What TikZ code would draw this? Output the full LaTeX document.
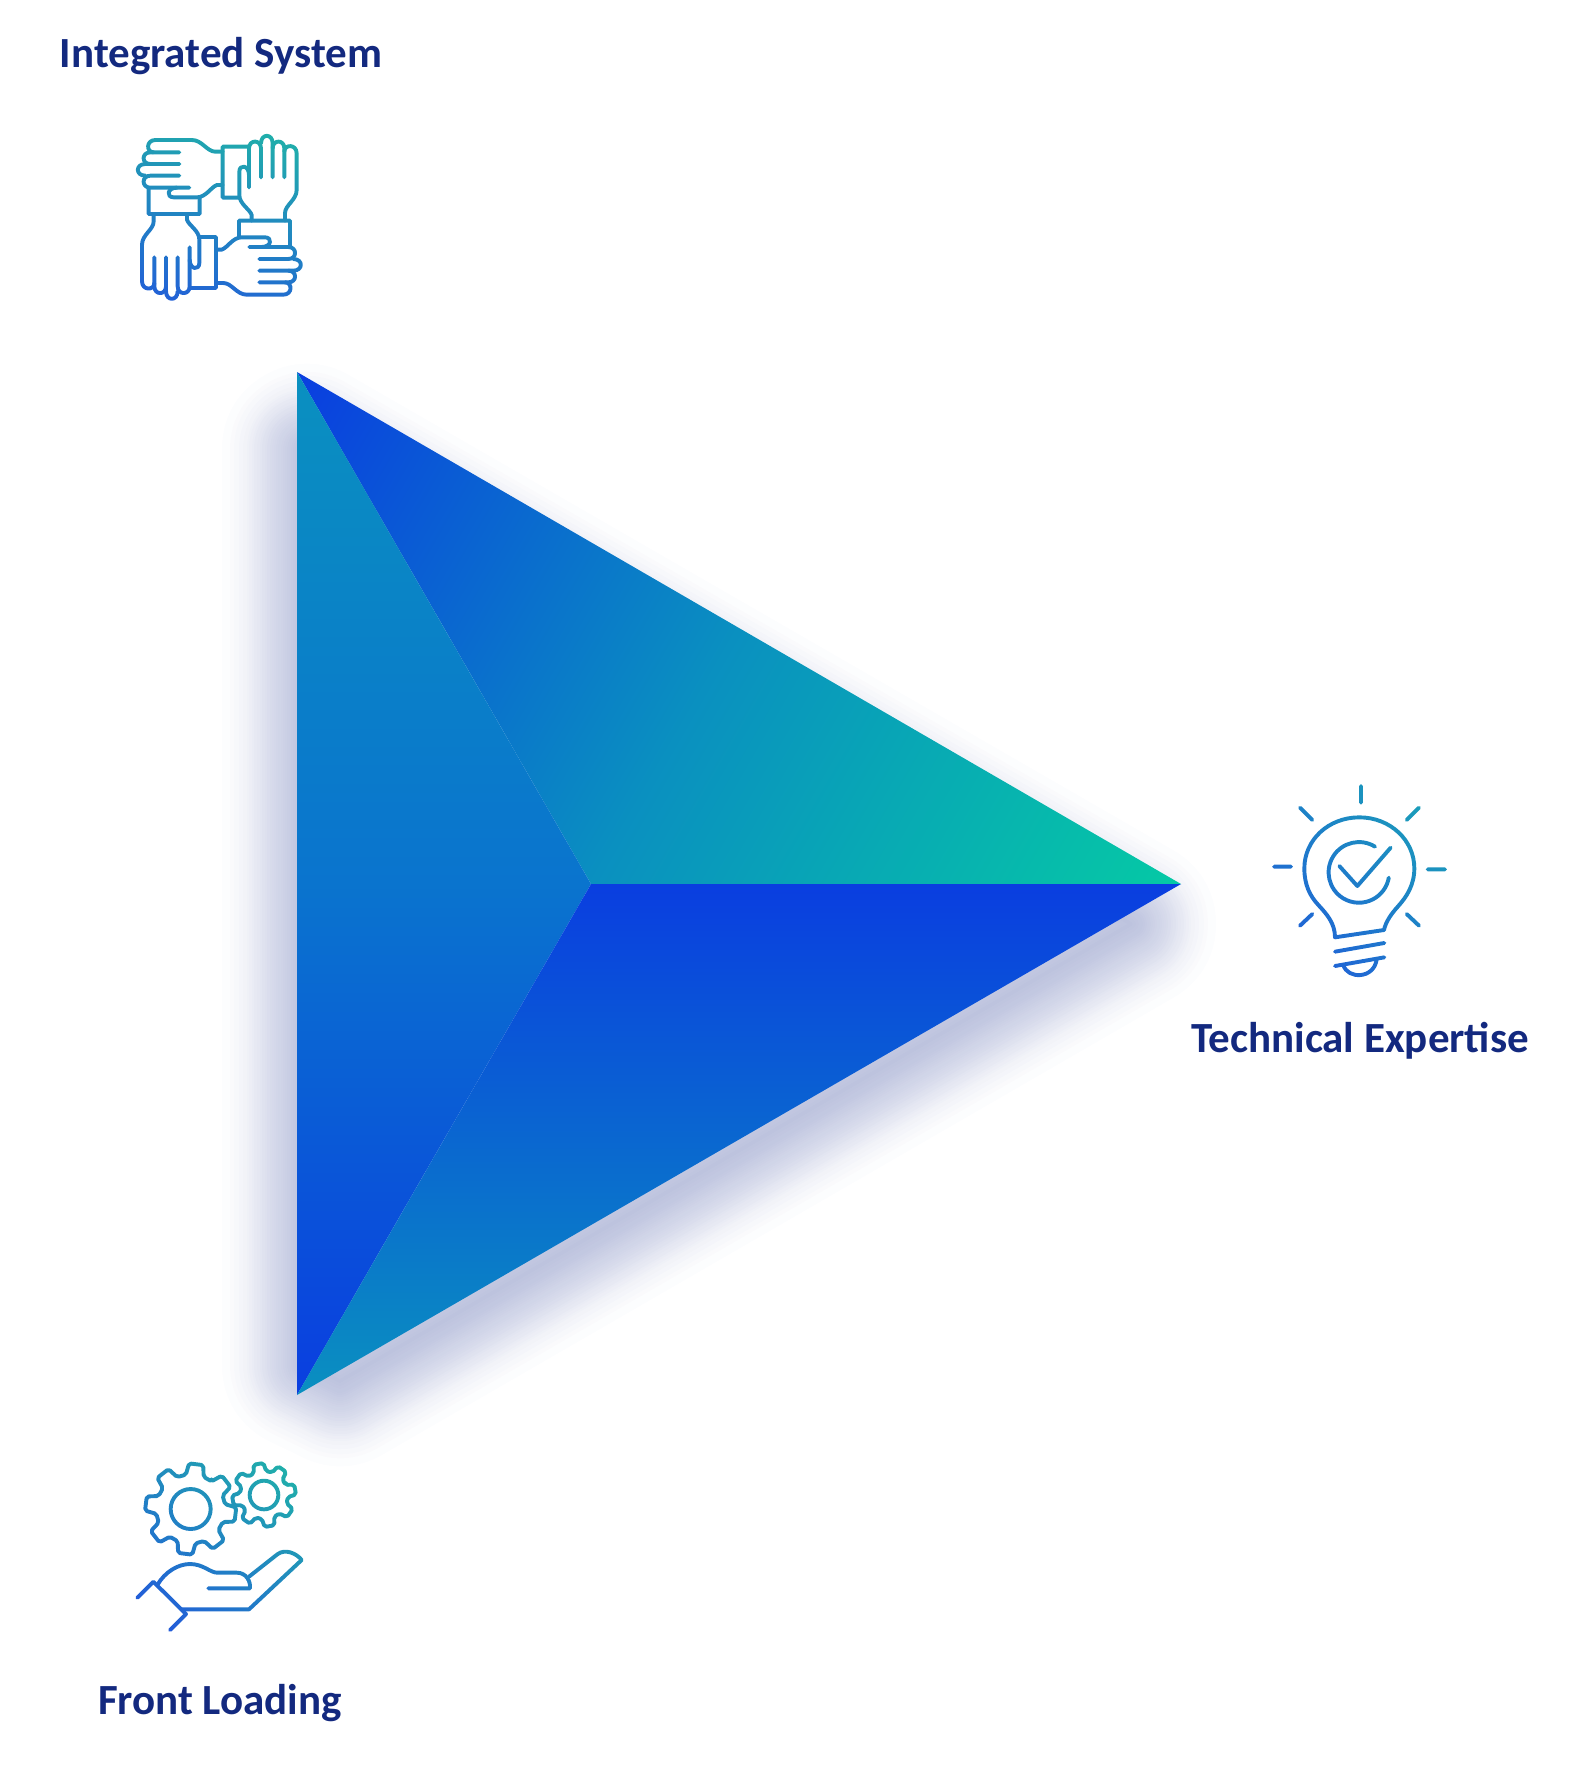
\documentclass[tikz,border=0pt]{standalone}
\usepackage{fontspec}
\setmainfont{Carlito}
\usetikzlibrary{fadings}
\definecolor{labelnavy}{HTML}{13297F}
\definecolor{shadowblue}{HTML}{1F3390}
\definecolor{deepblue}{HTML}{0A3EE0}
\definecolor{midteal}{HTML}{0A90C0}
\definecolor{midblue}{HTML}{0A74CE}
\definecolor{tipgreen}{HTML}{05C9A5}
\definecolor{iconblue}{HTML}{2255DD}
\definecolor{iconteal}{HTML}{20B8A5}
\definecolor{bulbteal}{HTML}{1AA0B8}
\tikzset{
    iconline/.style={draw=transparent!0, line width=3.9pt, line cap=round, line join=round},
    iconfade/.style={x=0.3333pt, y=-0.3333pt},
    sidelabel/.style={anchor=base, text=labelnavy, font=\fontsize{43}{46}\selectfont\bfseries}
}
% draws one gear: centre, tip radius, root radius, hole radius, offset
\newcommand{\gearwheel}[5]{
    \begin{scope}[shift={(#1)}]
        \draw[iconline, rounded corners=2pt] (#5-15:#3)
            \foreach \t in {0,45,...,315} {
                -- (#5+\t-15:#3) -- (#5+\t-9:#2) -- (#5+\t+9:#2) -- (#5+\t+15:#3)
            } -- cycle;
        \draw[iconline] (0,0) circle (#4);
    \end{scope}
}
\begin{tikzfadingfrompicture}[name=handsfade, iconfade]
    \path (0,0) rectangle (720,720);
    \foreach \a in {0,90,180,270} {
        \begin{scope}[rotate around={\a:(358,352)}]
            \draw[iconline] (455,362) -- (455,345) .. controls (450,328) and (418,312) .. (418,285) -- (418,215)
                .. controls (418,192) and (447,195) .. (447,225);
            \draw[iconline] (447,262) -- (447,145) .. controls (447,118) and (483,118) .. (483,145) -- (483,232);
            \draw[iconline] (483,130) .. controls (483,100) and (518,100) .. (518,130) -- (518,232);
            \draw[iconline] (518,145) .. controls (518,118) and (553,118) .. (553,145) -- (553,232);
            \draw[iconline] (553,155) .. controls (553,132) and (590,132) .. (590,160) -- (590,270)
                .. controls (590,300) and (555,315) .. (555,340) -- (555,362);
            \draw[iconline] (417,409) -- (417,362) -- (570,362) -- (570,440);
        \end{scope}
    }
\end{tikzfadingfrompicture}
\begin{tikzfadingfrompicture}[name=bulbfade, iconfade]
    \path (0,0) rectangle (720,720);
    % rays
    \foreach \xa/\ya/\xb/\yb in {423/78/423/128, 240/143/277/180, 597/143/560/180, 162/320/213/320,
        623/328/675/328, 277/462/240/497, 560/462/597/497} {
        \draw[iconline] (\xa,\ya) -- (\xb,\yb);
    }
    \draw[iconline] (345,532) .. controls (345,490) and (320,462) .. (295,435)
        .. controls (270,408) and (253,375) .. (253,325)
        .. controls (253,240) and (325,172) .. (418,172)
        .. controls (510,172) and (583,240) .. (583,325)
        .. controls (583,375) and (560,410) .. (535,438)
        .. controls (515,460) and (497,485) .. (492,510) -- cycle;
    \draw[iconline] (345,575) -- (493,549);
    \draw[iconline] (345,618) -- (493,592);
    \draw[iconline] (370,615) .. controls (382,658) and (462,658) .. (470,598);
    \draw[iconline] (465,260) arc[start angle=-58, end angle=-350, radius=91];
    \draw[iconline] (358,318) -- (412,378) -- (512,263);
\end{tikzfadingfrompicture}
\begin{tikzfadingfrompicture}[name=gearfade, iconfade]
    \path (0,0) rectangle (720,720);
    \gearwheel{272,267}{137}{104}{60}{-38}
    \gearwheel{492,225}{96}{72}{43}{-10}
    \draw[iconline] (112,533) -- (160,485) -- (258,582) -- (210,630);
    \draw[iconline] (172,495) .. controls (195,455) and (235,432) .. (270,432)
        .. controls (310,432) and (330,458) .. (352,458) -- (410,458)
        .. controls (440,458) and (452,485) .. (450,505) -- (325,505);
    \draw[iconline] (245,568) -- (447,568) -- (605,420)
        .. controls (590,400) and (555,385) .. (532,403) -- (447,470);
\end{tikzfadingfrompicture}
\begin{document}
\begin{tikzpicture}[x=1pt, y=-1pt]
    \useasboundingbox (0,0) rectangle (1580,1768);
    \coordinate (apex) at (297,372);
    \coordinate (tip) at (1181,884);
    \coordinate (foot) at (297,1395);
    \coordinate (hub) at (591,884);

    % soft shadow under the triangle
    \foreach \d in {-8,-5,-2,2,4,6,8,10,12,14,16,19,21,23,25,27,30,32,35,37,40,43,45,48,50,54,58,63,67,75} {
        \draw[shadowblue, opacity=0.01, line join=round, line width=2*(\d+10)*1pt]
            (307,449) -- (1131,924) -- (340,1381) -- (307,1365) -- cycle;
    }

    % the three facets
    \begin{scope}
        \clip (apex) -- (tip) -- (hub) -- cycle;
        \shade[bottom color=deepblue, top color=tipgreen, middle color=midteal, shading angle=240]
            (228,117) rectangle (1250,1139);
    \end{scope}
    \begin{scope}
        \clip (apex) -- (hub) -- (foot) -- cycle;
        \shade[top color=midteal, bottom color=deepblue, middle color=midblue] (290,372) rectangle (600,1395);
    \end{scope}
    \begin{scope}
        \clip (hub) -- (tip) -- (foot) -- cycle;
        \shade[top color=deepblue, bottom color=midteal] (290,884) rectangle (1190,1395);
    \end{scope}

    % icons
    \foreach \fade/\cx/\cy/\ang/\upper in {handsfade/220/220/-15/iconteal, bulbfade/1340/880/-45/bulbteal,
        gearfade/220/1540/-40/iconteal} {
        \shade[path fading=\fade, fit fading=false, fading transform={shift={(\cx,\cy)}},
            bottom color=iconblue, top color=\upper, shading angle=\ang]
            (\cx-120,\cy-120) rectangle (\cx+120,\cy+120);
    }

    % labels
    \node[sidelabel] (system) at (221,68) {Integrated System};
    \node[sidelabel] (expertise) at (1360,1052) {Technical Expertise};
    \node[sidelabel] (loading) at (220,1714) {Front Loading};
\end{tikzpicture}
\end{document}
